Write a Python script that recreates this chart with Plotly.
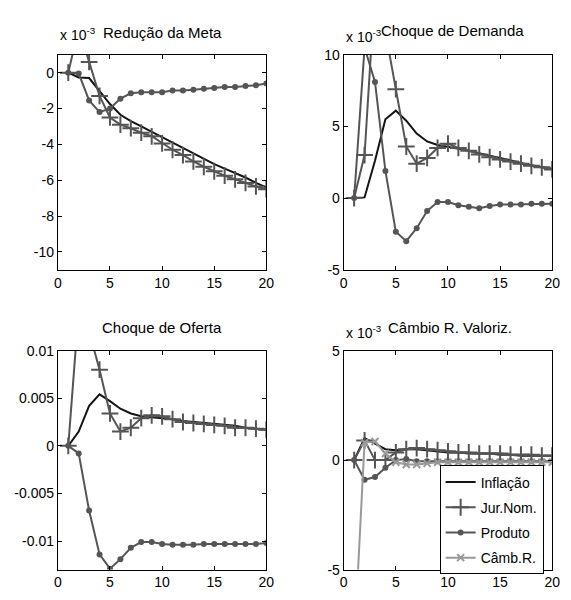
import plotly.graph_objects as go

# Horizon (periods after the shock)
periodos = list(range(1, 21))

# Redução da Meta (x 10^-3)
meta_inflacao = [0, -0.27, -0.3, -1.05, -1.75, -2.35, -2.7, -3.0, -3.3, -3.6,
                 -3.9, -4.2, -4.5, -4.8, -5.1, -5.35, -5.6, -5.85, -6.15, -6.4]
meta_juros = [0, 2.5, 0.6, -1.3, -2.5, -2.9, -3.1, -3.35, -3.55, -3.95,
              -4.3, -4.6, -4.95, -5.25, -5.5, -5.75, -5.95, -6.15, -6.35, -6.5]
meta_produto = [0, -0.05, -1.55, -2.2, -2.0, -1.45, -1.15, -1.1, -1.1, -1.1,
                -1.0, -1.0, -0.95, -0.9, -0.85, -0.8, -0.8, -0.75, -0.7, -0.6]

# Choque de Demanda (x 10^-3)
dem_inflacao = [0, 0.05, 2.6, 5.5, 6.1, 5.4, 4.5, 3.95, 3.7, 3.6,
                3.45, 3.3, 3.1, 2.95, 2.8, 2.6, 2.45, 2.3, 2.15, 2.05]
dem_juros = [0, 3.0, 14.7, 11.6, 7.6, 3.6, 2.4, 2.8, 3.5, 3.8,
             3.5, 3.3, 3.05, 2.85, 2.7, 2.55, 2.4, 2.25, 2.15, 2.0]
dem_produto = [0, 10.5, 8.1, 1.9, -2.35, -3.0, -2.1, -0.9, -0.27, -0.27,
               -0.5, -0.6, -0.7, -0.55, -0.45, -0.45, -0.45, -0.4, -0.4, -0.4]

# Choque de Oferta
of_inflacao = [0, 0.0015, 0.0042, 0.0054, 0.0047, 0.0039, 0.0034, 0.0031, 0.0030, 0.0029,
               0.0028, 0.0026, 0.0025, 0.0024, 0.0023, 0.0022, 0.0021, 0.0019, 0.0018, 0.0017]
of_juros = [0, 0.0143, 0.012, 0.0080, 0.0034, 0.0015, 0.0019, 0.0029, 0.0032, 0.0031,
            0.0028, 0.0025, 0.0024, 0.0023, 0.0022, 0.0021, 0.0019, 0.0019, 0.0018, 0.0017]
of_produto = [0, -0.0008, -0.0068, -0.0114, -0.0129, -0.0119, -0.0107, -0.0101, -0.0101, -0.0103,
              -0.0104, -0.0104, -0.0104, -0.0103, -0.0103, -0.0103, -0.0103, -0.0103, -0.0103, -0.0102]

# Câmbio R. Valoriz. (x 10^-3)
cam_inflacao = [0, 1.0, 0.75, 0.5, 0.45, 0.5, 0.5, 0.45, 0.4, 0.35,
                0.35, 0.3, 0.3, 0.3, 0.25, 0.25, 0.2, 0.2, 0.2, 0.2]
cam_juros = [0, 0.9, 0.0, 0.0, 0.35, 0.5, 0.55, 0.5, 0.45, 0.4,
             0.35, 0.35, 0.3, 0.3, 0.3, 0.25, 0.25, 0.25, 0.2, 0.2]
cam_produto = [0, -0.9, -0.77, -0.35, 0.0, 0.05, -0.05, -0.05, -0.05, -0.05,
               -0.05, -0.05, -0.05, -0.05, -0.05, -0.05, -0.05, -0.05, -0.05, -0.05]
cam_cambio = [-8.5, 0.8, 0.85, 0.3, -0.1, -0.2, -0.2, -0.15, -0.1, -0.1,
              -0.1, -0.1, -0.1, -0.1, -0.1, -0.1, -0.1, -0.1, -0.1, -0.1]

titulos = ["Redução da Meta", "Choque de Demanda", "Choque de Oferta", "Câmbio R. Valoriz."]
x_ticks = [0, 5, 10, 15, 20]

W, H = 571, 600
FONT = "Liberation Sans, Arial, sans-serif"

# panel boxes in pixels: (left, right, top, bottom)
boxes = [(55, 268, 48, 269), (347, 560, 48, 269), (55, 268, 352, 577), (347, 560, 352, 577)]

y_ranges = [[-11, 1], [-5, 10], [-0.013, 0.01], [-5, 5]]
y_tickvals = [[0, -2, -4, -6, -8, -10], [10, 5, 0, -5],
              [0.01, 0.005, 0, -0.005, -0.01], [5, 0, -5]]
y_ticktext = [["0", "-2", "-4", "-6", "-8", "-10"], ["10", "5", "0", "-5"],
              ["0.01", "0.005", "0", "-0.005", "-0.01"], ["5", "0", "-5"]]

styles = {
    "Inflação": dict(line=dict(color="#141414", width=2), mode="lines"),
    "Jur.Nom.": dict(line=dict(color="#555555", width=2), mode="lines+markers",
                     marker=dict(symbol="cross-thin", size=12,
                                 line=dict(color="#555555", width=2))),
    "Produto": dict(line=dict(color="#555555", width=2), mode="lines+markers",
                    marker=dict(symbol="circle", size=6, color="#555555")),
    "Câmb.R.": dict(line=dict(color="#999999", width=2), mode="lines+markers",
                    marker=dict(symbol="x-thin", size=7,
                                line=dict(color="#999999", width=2))),
}

panels = [
    {"Inflação": meta_inflacao, "Jur.Nom.": meta_juros, "Produto": meta_produto},
    {"Inflação": dem_inflacao, "Jur.Nom.": dem_juros, "Produto": dem_produto},
    {"Inflação": of_inflacao, "Jur.Nom.": of_juros, "Produto": of_produto},
    {"Inflação": cam_inflacao, "Jur.Nom.": cam_juros, "Produto": cam_produto,
     "Câmb.R.": cam_cambio},
]

fig = go.Figure()
layout = {}
for i, (series, (l, r, t, b)) in enumerate(zip(panels, boxes)):
    n = "" if i == 0 else str(i + 1)
    xa, ya = "x" + n, "y" + n
    for name, vals in series.items():
        st = styles[name]
        fig.add_trace(go.Scatter(x=periodos, y=vals, name=name, xaxis=xa, yaxis=ya,
                                 legendgroup=name, showlegend=(i == 3),
                                 cliponaxis=True, **st))
    axis_common = dict(showgrid=False, zeroline=False, showline=True, linecolor="black",
                       linewidth=1, mirror="ticks", ticks="inside", ticklen=4,
                       tickcolor="black", tickfont=dict(family=FONT, size=14, color="black"))
    layout["xaxis" + n] = dict(domain=[l / W, r / W], range=[0, 20], tickvals=x_ticks,
                               anchor=ya, **axis_common)
    layout["yaxis" + n] = dict(domain=[1 - b / H, 1 - t / H], range=y_ranges[i],
                               tickvals=y_tickvals[i], ticktext=y_ticktext[i],
                               anchor=xa, **axis_common)

annotations = []
title_x = [162, 458, 161, 456]
title_y = [25, 23, 328, 328]
for i in range(4):
    annotations.append(dict(text=titulos[i], x=title_x[i] / W, y=1 - title_y[i] / H,
                            xref="paper", yref="paper", showarrow=False,
                            xanchor="center", yanchor="middle",
                            font=dict(family=FONT, size=15, color="black")))
# exponent labels for the scaled panels
for (l, r, t, b), yy in [(boxes[0], 27), (boxes[1], 29), (boxes[3], 333)]:
    annotations.append(dict(text="x 10<sup>-3</sup>", x=l / W, y=1 - yy / H,
                            xref="paper", yref="paper", showarrow=False,
                            xanchor="left", yanchor="middle",
                            font=dict(family=FONT, size=14, color="black")))

fig.update_layout(
    width=W, height=H, margin=dict(l=0, r=0, t=0, b=0),
    paper_bgcolor="white", plot_bgcolor="white",
    annotations=annotations,
    legend=dict(x=445 / W, y=1 - 470 / H, xanchor="left", yanchor="top",
                traceorder="grouped", tracegroupgap=4, itemwidth=30,
                bgcolor="white", bordercolor="black", borderwidth=1,
                font=dict(family=FONT, size=14, color="black")),
    **layout,
)

fig.write_html("out.html")
